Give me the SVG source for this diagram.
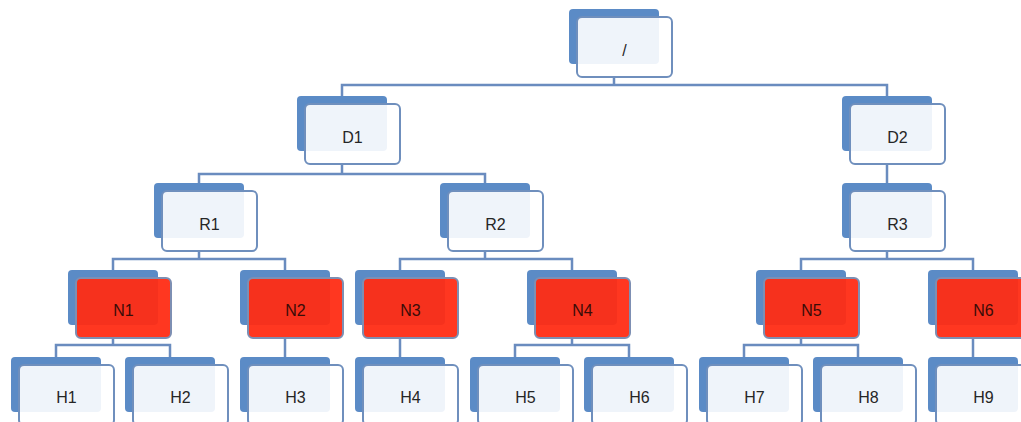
<svg xmlns="http://www.w3.org/2000/svg" width="1021" height="422" viewBox="0 0 1021 422">
  <style>
    .back { fill: #5b8bc6; }
    .front { fill: #ffffff; fill-opacity: 0.9; stroke: #6f8fbd; stroke-width: 2; }
    .hot { fill: #ff2c14; fill-opacity: 0.95; stroke: #7d8fb3; stroke-width: 2; }
    .lbl { font-family: "Liberation Sans", Arial, sans-serif; font-size: 16px; fill: #262626; text-anchor: middle; dominant-baseline: central; }
    .hotlbl { fill: #3a0c08; }
    .wire { fill: none; stroke: #6a8cbf; stroke-width: 2.5; }
  </style>
  <rect width="1021" height="422" fill="#ffffff"/>

  <!-- tree connectors -->
  <g id="connectors" class="wire">
    <path d="M614 77V85M342 96V85H887V96"/>
    <path d="M342 164V174M199 183V174H485V183"/>
    <path d="M887 164V183"/>
    <path d="M199 251V259M113 270V259H285V270"/>
    <path d="M485 251V259M400 270V259H572V270"/>
    <path d="M887 251V259M801 270V259H973V270"/>
    <path d="M113 338V345M56 357V345H170V357"/>
    <path d="M285 338V357"/>
    <path d="M400 338V357"/>
    <path d="M572 338V345M515 357V345H629V357"/>
    <path d="M801 338V345M744 357V345H858V357"/>
    <path d="M973 338V357"/>
  </g>

  <!-- level 0 -->
  <g id="root"><rect class="back" x="569" y="9" width="90" height="55" rx="4"/><rect class="front" x="577" y="17" width="95" height="60" rx="5"/><text class="lbl" x="624.5" y="50">/</text></g>

  <!-- level 1 -->
  <g id="D1"><rect class="back" x="297" y="96" width="90" height="55" rx="4"/><rect class="front" x="305" y="104" width="95" height="60" rx="5"/><text class="lbl" x="352.5" y="137">D1</text></g>
  <g id="D2"><rect class="back" x="842" y="96" width="90" height="55" rx="4"/><rect class="front" x="850" y="104" width="95" height="60" rx="5"/><text class="lbl" x="897.5" y="137">D2</text></g>

  <!-- level 2 -->
  <g id="R1"><rect class="back" x="154" y="183" width="90" height="55" rx="4"/><rect class="front" x="162" y="191" width="95" height="60" rx="5"/><text class="lbl" x="209.5" y="224">R1</text></g>
  <g id="R2"><rect class="back" x="440" y="183" width="90" height="55" rx="4"/><rect class="front" x="448" y="191" width="95" height="60" rx="5"/><text class="lbl" x="495.5" y="224">R2</text></g>
  <g id="R3"><rect class="back" x="842" y="183" width="90" height="55" rx="4"/><rect class="front" x="850" y="191" width="95" height="60" rx="5"/><text class="lbl" x="897.5" y="224">R3</text></g>

  <!-- level 3 (highlighted) -->
  <g id="N1"><rect class="back" x="68" y="270" width="90" height="55" rx="4"/><rect class="hot" x="76" y="278" width="95" height="60" rx="5"/><text class="lbl hotlbl" x="123.5" y="310">N1</text></g>
  <g id="N2"><rect class="back" x="240" y="270" width="90" height="55" rx="4"/><rect class="hot" x="248" y="278" width="95" height="60" rx="5"/><text class="lbl hotlbl" x="295.5" y="310">N2</text></g>
  <g id="N3"><rect class="back" x="355" y="270" width="90" height="55" rx="4"/><rect class="hot" x="363" y="278" width="95" height="60" rx="5"/><text class="lbl hotlbl" x="410.5" y="310">N3</text></g>
  <g id="N4"><rect class="back" x="527" y="270" width="90" height="55" rx="4"/><rect class="hot" x="535" y="278" width="95" height="60" rx="5"/><text class="lbl hotlbl" x="582.5" y="310">N4</text></g>
  <g id="N5"><rect class="back" x="756" y="270" width="90" height="55" rx="4"/><rect class="hot" x="764" y="278" width="95" height="60" rx="5"/><text class="lbl hotlbl" x="811.5" y="310">N5</text></g>
  <g id="N6"><rect class="back" x="928" y="270" width="90" height="55" rx="4"/><rect class="hot" x="936" y="278" width="95" height="60" rx="5"/><text class="lbl hotlbl" x="983.5" y="310">N6</text></g>

  <!-- level 4 -->
  <g id="H1"><rect class="back" x="11" y="357" width="90" height="55" rx="4"/><rect class="front" x="19" y="365" width="95" height="60" rx="5"/><text class="lbl" x="66.5" y="397">H1</text></g>
  <g id="H2"><rect class="back" x="125" y="357" width="90" height="55" rx="4"/><rect class="front" x="133" y="365" width="95" height="60" rx="5"/><text class="lbl" x="180.5" y="397">H2</text></g>
  <g id="H3"><rect class="back" x="240" y="357" width="90" height="55" rx="4"/><rect class="front" x="248" y="365" width="95" height="60" rx="5"/><text class="lbl" x="295.5" y="397">H3</text></g>
  <g id="H4"><rect class="back" x="355" y="357" width="90" height="55" rx="4"/><rect class="front" x="363" y="365" width="95" height="60" rx="5"/><text class="lbl" x="410.5" y="397">H4</text></g>
  <g id="H5"><rect class="back" x="470" y="357" width="90" height="55" rx="4"/><rect class="front" x="478" y="365" width="95" height="60" rx="5"/><text class="lbl" x="525.5" y="397">H5</text></g>
  <g id="H6"><rect class="back" x="584" y="357" width="90" height="55" rx="4"/><rect class="front" x="592" y="365" width="95" height="60" rx="5"/><text class="lbl" x="639.5" y="397">H6</text></g>
  <g id="H7"><rect class="back" x="699" y="357" width="90" height="55" rx="4"/><rect class="front" x="707" y="365" width="95" height="60" rx="5"/><text class="lbl" x="754.5" y="397">H7</text></g>
  <g id="H8"><rect class="back" x="813" y="357" width="90" height="55" rx="4"/><rect class="front" x="821" y="365" width="95" height="60" rx="5"/><text class="lbl" x="868.5" y="397">H8</text></g>
  <g id="H9"><rect class="back" x="928" y="357" width="90" height="55" rx="4"/><rect class="front" x="936" y="365" width="95" height="60" rx="5"/><text class="lbl" x="983.5" y="397">H9</text></g>
</svg>
